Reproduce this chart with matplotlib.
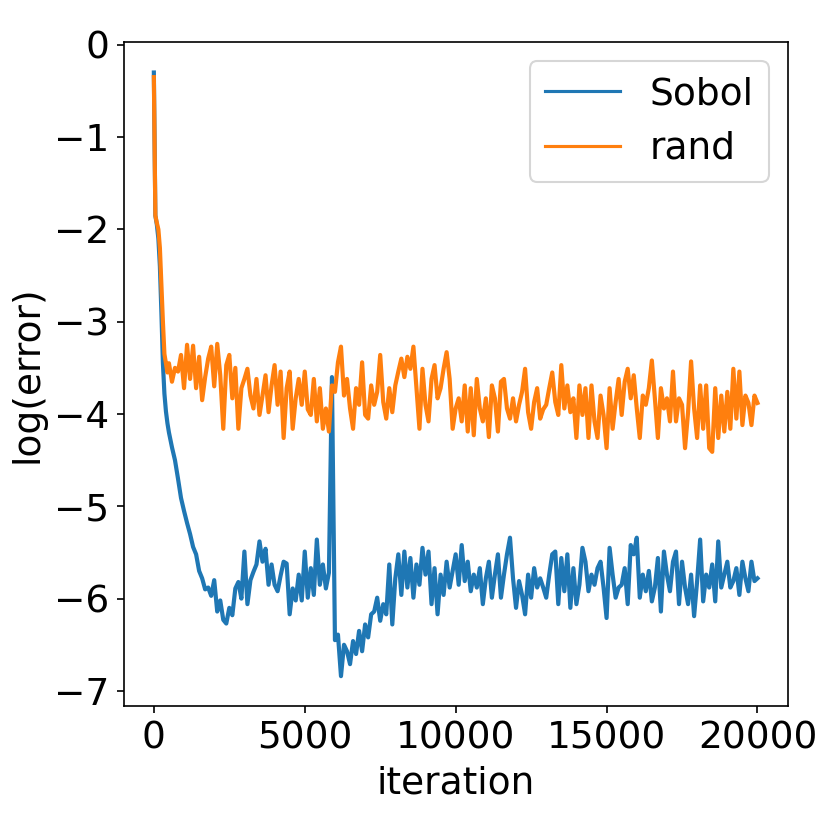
import numpy as np
import matplotlib
matplotlib.use("Agg")
import matplotlib.pyplot as plt

# iterations: finer steps at the start, then every 100
iters = np.concatenate([np.arange(0, 500, 50), np.arange(500, 20001, 100)])

sobol = [
    # 0 - 450
    -0.30, -1.85, -1.95, -2.10, -2.40, -2.90, -3.45, -3.78, -3.97, -4.10,
    # 500 - 900
    -4.20, -4.36, -4.50, -4.70, -4.91,
    -5.05, -5.18, -5.30, -5.44, -5.52, -5.70, -5.78, -5.90, -5.88, -5.97,
    -5.80, -6.14, -6.02, -6.23, -6.27, -6.10, -6.18, -5.89, -5.82, -6.00,
    -5.49, -6.06, -5.80, -5.71, -5.63, -5.38, -5.60, -5.46, -5.85, -5.63,
    -5.85, -5.92, -5.75, -5.60, -5.62, -6.17, -5.89, -6.02, -5.74, -6.02,
    -5.49, -5.99, -5.67, -5.96, -5.36, -5.85, -5.63, -5.89, -5.72, -3.60,
    -6.45, -6.39, -6.84, -6.50, -6.57, -6.71, -6.46, -6.60, -6.35, -6.57,
    -6.28, -6.42, -6.17, -6.14, -5.99, -6.24, -6.06, -6.17, -5.63, -6.28,
    -5.78, -5.52, -5.96, -5.49, -5.88, -5.56, -5.99, -5.63, -5.85, -5.45,
    -5.74, -5.49, -6.06, -5.67, -6.17, -5.74, -5.96, -5.60, -5.88, -5.70,
    -5.52, -5.85, -5.42, -5.81, -5.60, -5.92, -5.74, -5.88, -5.67, -6.06,
    -5.78, -5.60, -5.99, -5.74, -5.52, -5.99, -5.74, -5.52, -5.34, -5.78,
    -6.10, -5.81, -5.96, -6.17, -5.74, -5.99, -5.67, -5.88, -5.78, -5.88,
    -5.99, -5.74, -5.52, -5.49, -6.06, -5.56, -5.92, -5.52, -6.10, -5.67,
    -6.06, -5.85, -5.45, -5.60, -5.92, -5.74, -5.85, -5.67, -5.60, -5.88,
    -6.21, -5.45, -5.74, -5.99, -5.88, -5.85, -5.67, -6.06, -5.42, -5.52,
    -5.34, -5.99, -5.74, -5.92, -5.70, -6.03, -5.88, -5.56, -6.14, -5.49,
    -5.74, -5.92, -5.60, -5.49, -6.06, -5.60, -5.88, -6.06, -5.74, -6.19,
    -5.81, -5.36, -6.03, -5.74, -5.88, -5.63, -6.03, -5.38, -5.88, -5.74,
    -5.60, -5.88, -5.81, -5.67, -5.96, -5.60, -5.78, -5.92, -5.60, -5.81,
    -5.78,
]

rand = [
    # 0 - 450
    -0.35, -1.85, -1.93, -2.00, -2.20, -2.60, -3.00, -3.35, -3.45, -3.55,
    # 500 - 900
    -3.45, -3.65, -3.50, -3.54, -3.36,
    -3.72, -3.25, -3.62, -3.26, -3.72, -3.38, -3.85, -3.60, -3.40, -3.27,
    -3.70, -3.24, -3.58, -4.16, -3.47, -3.36, -3.83, -3.50, -4.16, -3.72,
    -3.62, -3.51, -3.80, -3.94, -3.62, -4.01, -3.80, -3.58, -3.98, -3.69,
    -3.47, -3.90, -3.54, -4.26, -3.72, -3.54, -4.16, -3.83, -3.62, -3.90,
    -3.54, -3.95, -4.01, -3.62, -4.08, -3.72, -4.16, -3.94, -4.19, -3.69,
    -3.76, -3.44, -3.27, -3.80, -3.62, -3.94, -4.16, -3.72, -3.90, -3.44,
    -4.01, -4.05, -3.69, -3.90, -3.76, -3.36, -3.87, -4.05, -3.72, -3.98,
    -3.69, -3.54, -3.40, -3.60, -3.38, -3.51, -3.27, -3.72, -4.16, -3.51,
    -3.90, -4.08, -3.62, -3.47, -3.83, -3.72, -3.51, -3.33, -3.62, -4.16,
    -3.94, -3.83, -4.08, -3.69, -4.19, -3.72, -4.23, -3.62, -3.94, -4.08,
    -3.83, -4.25, -3.69, -3.83, -4.19, -3.65, -3.62, -3.94, -4.05, -3.83,
    -4.08, -3.90, -3.76, -3.51, -3.98, -4.16, -3.87, -3.72, -4.05, -3.95,
    -3.90, -3.72, -3.55, -3.87, -4.01, -3.47, -3.94, -3.69, -3.98, -3.83,
    -4.26, -3.69, -4.01, -3.72, -4.26, -3.69, -4.08, -4.26, -3.80, -4.01,
    -4.37, -3.72, -4.16, -3.87, -3.62, -4.01, -3.65, -3.51, -3.83, -3.58,
    -3.94, -4.26, -3.80, -3.90, -3.72, -3.42, -3.83, -4.26, -3.72, -3.94,
    -3.83, -4.08, -3.54, -4.08, -3.83, -3.90, -4.37, -3.98, -3.43, -3.94,
    -4.26, -3.69, -4.16, -3.69, -4.37, -4.41, -3.72, -4.26, -3.80, -4.19,
    -3.76, -4.16, -3.51, -4.05, -3.54, -4.12, -3.80, -3.88, -4.12, -3.80,
    -3.88,
]

plt.rcParams['font.size'] = 18

fig = plt.figure(figsize=(830 / 150, 830 / 150), dpi=150)
ax = fig.add_axes([0.149, 0.149, 0.800, 0.800])

ax.plot(iters, sobol, label='Sobol', lw=2.0)
ax.plot(iters, rand, label='rand', lw=2.0)

ax.set_xlabel('iteration')
ax.set_ylabel('log(error)')
ax.set_xticks([0, 5000, 10000, 15000, 20000])
ax.set_yticks(range(-7, 1))
leg = ax.legend(loc='upper right')
for line in leg.get_lines():
    line.set_linewidth(1.5)

fig.savefig('out.png', dpi=150)
